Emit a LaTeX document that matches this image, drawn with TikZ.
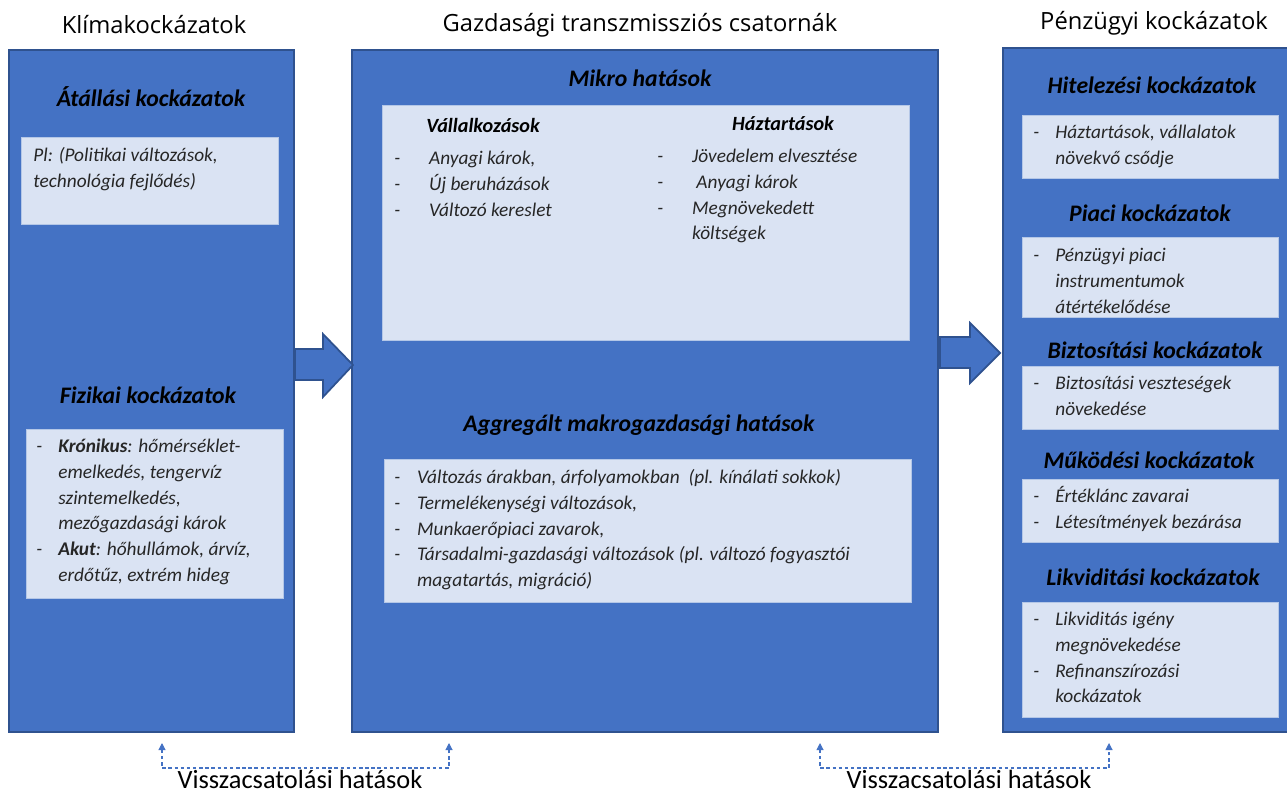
\documentclass[tikz,border=0pt]{standalone}
\usepackage{fontspec}
\setmainfont{Carlito}
\newfontfamily\titlefont{Open Sans}
\usetikzlibrary{arrows.meta}

\definecolor{boxblue}{HTML}{4472C4}
\definecolor{boxline}{HTML}{2F528F}
\definecolor{paleblue}{HTML}{DAE3F3}
\definecolor{paleline}{HTML}{B4C7E7}
\definecolor{bodytext}{HTML}{262626}

\tikzstyle{bigbox}   = [draw=boxline, fill=boxblue, line width=1pt, inner sep=0pt]
\tikzstyle{palebox}  = [draw=paleline, fill=paleblue, line width=0.4pt, inner sep=0pt]
\tikzstyle{head}     = [inner sep=0pt, font=\bfseries\itshape\fontsize{13.5}{15}\selectfont]
\tikzstyle{subhead}  = [inner sep=0pt, font=\bfseries\itshape\fontsize{11.5}{13}\selectfont]
\tikzstyle{body}     = [inner sep=0pt, anchor=north west, text=bodytext, font=\itshape\fontsize{11}{14.6}\selectfont]
\tikzstyle{coltitle} = [inner sep=0pt, font=\titlefont\fontsize{13.5}{15}\selectfont]
\tikzstyle{fblabel}  = [inner sep=0pt, font=\fontsize{15}{17}\selectfont]
\tikzstyle{feedback} = [draw=boxblue, line width=0.6pt, dash pattern=on 2pt off 1.5pt,
                        {Triangle[length=4pt,width=4pt]}-{Triangle[length=4pt,width=4pt]}]
\tikzstyle{blockarrow} = [draw=boxline, fill=boxblue, line width=1pt, line join=miter]

\newcommand{\dsh}[1]{\makebox[#1][l]{-}}

\begin{document}
\begin{tikzpicture}[x=0.02cm, y=-0.02cm]
  \useasboundingbox (0,0) rectangle (1287,794);

  % column titles
  \node at (154,25) (tklima) [coltitle] {Klímakockázatok};
  \node at (640,25) (tgazd) [coltitle] {Gazdasági transzmissziós csatornák};
  \node at (1154,23) (tpenz) [coltitle] {Pénzügyi kockázatok};

  % the three big boxes
  \node at (151.5,391) (klima) [bigbox, minimum width=5.70cm, minimum height=13.64cm] {};
  \node at (645,391) (gazd) [bigbox, minimum width=11.72cm, minimum height=13.64cm] {};
  \node at (1151.5,390) (penz) [bigbox, minimum width=5.94cm, minimum height=13.68cm] {};

  % left column
  \node at (151,97) (atall) [head] {Átállási kockázatok};
  \node at (149.5,180.5) (atallbox) [palebox, minimum width=5.14cm, minimum height=1.74cm] {};
  \node at (33,143.5) [body] {\begin{tabular}{@{}l@{}}
      Pl: (Politikai változások,\\
      technológia fejlődés)
    \end{tabular}};

  \node at (148,395) (fiz) [head] {Fizikai kockázatok};
  \node at (154.5,513.5) (fizbox) [palebox, minimum width=5.14cm, minimum height=3.38cm] {};
  \node at (36,434.5) [body] {\begin{tabular}{@{}l@{}l@{}}
      \dsh{12.5pt} & \textbf{Krónikus}: hőmérséklet-\\
      & emelkedés, tengervíz\\
      & szintemelkedés,\\
      & mezőgazdasági károk\\
      \dsh{12.5pt} & \textbf{Akut}: hőhullámok, árvíz,\\
      & erdőtűz, extrém hideg
    \end{tabular}};

  % middle column
  \node at (640,78) (mikro) [head] {Mikro hatások};
  \node at (645.5,222.5) (mikrobox) [palebox, minimum width=10.54cm, minimum height=4.70cm] {};
  \node at (483,125) (vall) [subhead] {Vállalkozások};
  \node at (783,123) (hazt) [subhead] {Háztartások};
  \node at (394,146.5) [body] {\begin{tabular}{@{}l@{}l@{}}
      \dsh{19.8pt} & Anyagi károk,\\
      \dsh{19.8pt} & Új beruházások\\
      \dsh{19.8pt} & Változó kereslet
    \end{tabular}};
  \node at (657,144.5) [body] {\begin{tabular}{@{}l@{}l@{}}
      \dsh{19.8pt} & Jövedelem elvesztése\\
      \dsh{19.8pt} & \ Anyagi károk\\
      \dsh{19.8pt} & Megnövekedett\\
      & költségek
    \end{tabular}};

  \node at (639,425) (makro) [head] {Aggregált makrogazdasági hatások};
  \node at (647.5,530.5) (makrobox) [palebox, minimum width=10.54cm, minimum height=2.86cm] {};
  \node at (394,465.5) [body] {\begin{tabular}{@{}l@{}l@{}}
      \dsh{13pt} & Változás árakban, árfolyamokban\ \ (pl. kínálati sokkok)\\
      \dsh{13pt} & Termelékenységi változások,\\
      \dsh{13pt} & Munkaerőpiaci zavarok,\\
      \dsh{13pt} & Társadalmi-gazdasági változások (pl. változó fogyasztói\\
      & magatartás, migráció)
    \end{tabular}};

  % right column
  \node at (1152,85) (hitel) [head] {Hitelezési kockázatok};
  \node at (1150,146.5) (hitelbox) [palebox, minimum width=5.12cm, minimum height=1.26cm] {};
  \node at (1033,120.5) [body] {\begin{tabular}{@{}l@{}l@{}}
      \dsh{12.5pt} & Háztartások, vállalatok\\
      & növekvő csődje
    \end{tabular}};

  \node at (1150,213) (piaci) [head] {Piaci kockázatok};
  \node at (1150,277) (piacibox) [palebox, minimum width=5.12cm, minimum height=1.60cm] {};
  \node at (1033,243.5) [body] {\begin{tabular}{@{}l@{}l@{}}
      \dsh{12.5pt} & Pénzügyi piaci\\
      & instrumentumok\\
      & átértékelődése
    \end{tabular}};

  \node at (1155,350) (bizt) [head] {Biztosítási kockázatok};
  \node at (1150,397.5) (biztbox) [palebox, minimum width=5.12cm, minimum height=1.26cm] {};
  \node at (1033,371.5) [body] {\begin{tabular}{@{}l@{}l@{}}
      \dsh{12.5pt} & Biztosítási veszteségek\\
      & növekedése
    \end{tabular}};

  \node at (1149,460) (mukod) [head] {Működési kockázatok};
  \node at (1150,510.5) (mukodbox) [palebox, minimum width=5.12cm, minimum height=1.26cm] {};
  \node at (1033,484.5) [body] {\begin{tabular}{@{}l@{}l@{}}
      \dsh{12.5pt} & Értéklánc zavarai\\
      \dsh{12.5pt} & Létesítmények bezárása
    \end{tabular}};

  \node at (1153,577) (likv) [head] {Likviditási kockázatok};
  \node at (1150,659.5) (likvbox) [palebox, minimum width=5.12cm, minimum height=2.30cm] {};
  \node at (1033,607.5) [body] {\begin{tabular}{@{}l@{}l@{}}
      \dsh{12.5pt} & Likviditás igény\\
      & megnövekedése\\
      \dsh{12.5pt} & Refinanszírozási\\
      & kockázatok
    \end{tabular}};

  % block arrows between the boxes
  \coordinate (arL) at (295,365);
  \coordinate (arR) at (940,353);
  \draw[blockarrow] (arL) ++(0,-16) -- ++(28,0) -- ++(0,-15) -- ++(30,31)
        -- ++(-30,32) -- ++(0,-17) -- ++(-28,0) -- cycle;
  \draw[blockarrow] (arR) ++(0,-16) -- ++(30,0) -- ++(0,-14) -- ++(30,30)
        -- ++(-30,30) -- ++(0,-15) -- ++(-30,0) -- cycle;

  % feedback loops
  \coordinate (fbL1) at (162,743);
  \coordinate (fbL2) at (449,743);
  \coordinate (fbR1) at (820,743);
  \coordinate (fbR2) at (1109,743);
  \draw[feedback] (fbL1) -- ++(0,25) -| (fbL2);
  \draw[feedback] (fbR1) -- ++(0,25) -| (fbR2);
  \node at (300,779) (fbtxtL) [fblabel] {Visszacsatolási hatások};
  \node at (969,779) (fbtxtR) [fblabel] {Visszacsatolási hatások};
\end{tikzpicture}
\end{document}
